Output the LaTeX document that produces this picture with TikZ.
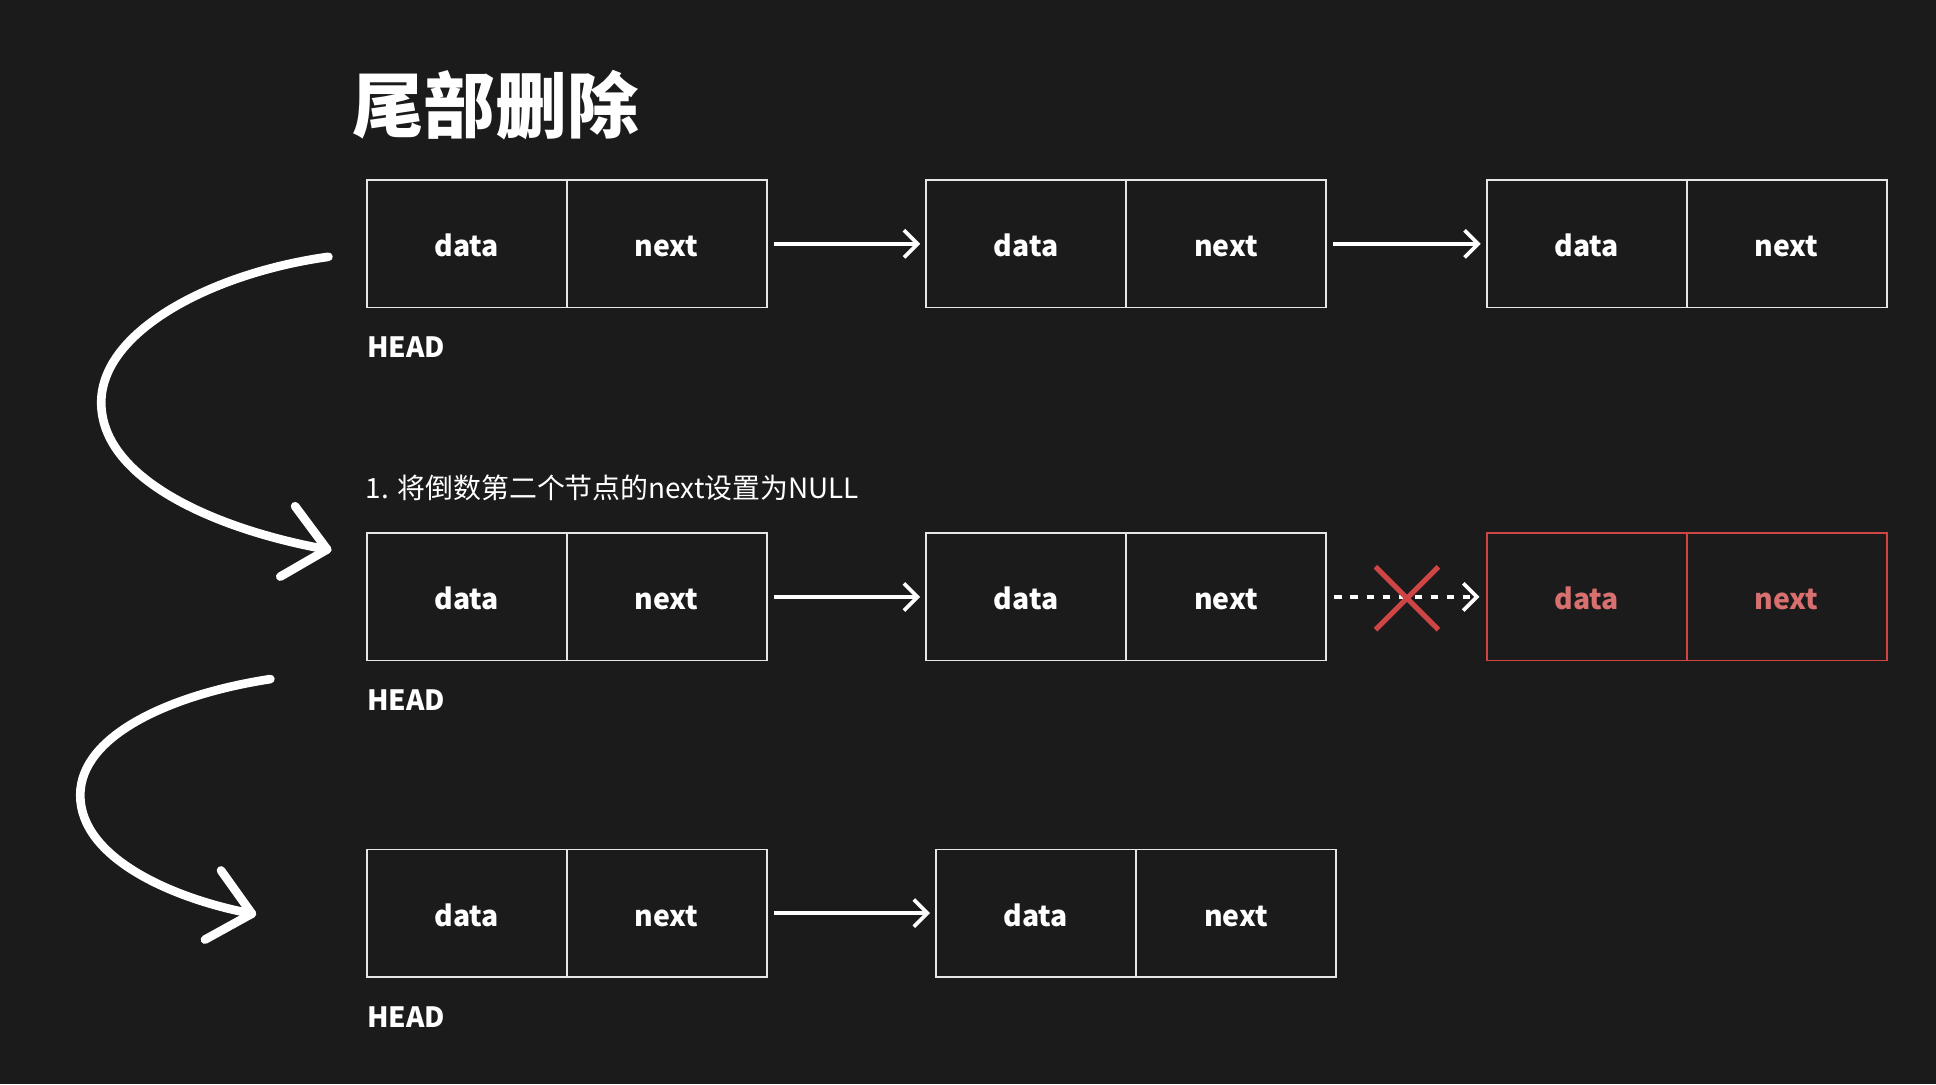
\documentclass[tikz,border=0pt]{standalone}
\usepackage{fontspec}
\setmainfont{Noto Sans CJK SC}
\usetikzlibrary{arrows.meta}
\definecolor{bgc}{HTML}{1B1B1B}
\definecolor{boxline}{HTML}{E6E6E6}
\definecolor{redline}{HTML}{CF4444}
\definecolor{redtext}{HTML}{D87070}
\begin{document}
\begin{tikzpicture}[x=0.5pt,y=-0.5pt,
  cell/.style={draw=boxline,line width=0.75pt,minimum width=81pt,minimum height=51.5pt,inner sep=0pt,
    text height=10.5pt,text depth=0pt,
    text=white,font=\fontsize{11.5}{13}\selectfont\bfseries},
  redcell/.style={cell,draw=redline,text=redtext},
  headlbl/.style={anchor=west,inner sep=0pt,text=white,font=\fontsize{11.3}{13}\selectfont\bfseries},
  link/.style={draw=white,line width=1.5pt,-{Straight Barb[length=5.5pt,width=11pt,line width=1.5pt]},shorten <=2.5pt,shorten >=2pt},
  dlink/.style={link,dash pattern=on 3pt off 3.5pt,shorten <=3pt,shorten >=2.5pt},
  bigarrow/.style={draw=white,line width=3.5pt,line cap=round,line join=round},
]
\fill[bgc] (0,0) rectangle (1568,878);
\useasboundingbox (0,0) rectangle (1568,878);

\node[anchor=west,inner sep=0pt,text=white,font=\fontsize{29}{32}\selectfont\bfseries] (title) at (285,85) {尾部删除};

% row 1
\node[cell] (r1a1) at (378,197.5) {data};
\node[cell] (r1a2) at (540,197.5) {next};
\node[cell] (r1b1) at (831,197.5) {data};
\node[cell] (r1b2) at (993,197.5) {next};
\node[cell] (r1c1) at (1285,197.5) {data};
\node[cell] (r1c2) at (1447,197.5) {next};
\node[headlbl] (h1) at (297,281) {HEAD};
\draw[link] (r1a2.east) -- (r1b1.west);
\draw[link] (r1b2.east) -- (r1c1.west);

% row 2
\node[anchor=west,inner sep=0pt,text=white,font=\fontsize{11.3}{13}\selectfont] (step1) at (296,395) {1. 将倒数第二个节点的next设置为NULL};
\node[cell] (r2a1) at (378,483.5) {data};
\node[cell] (r2a2) at (540,483.5) {next};
\node[cell] (r2b1) at (831,483.5) {data};
\node[cell] (r2b2) at (993,483.5) {next};
\node[redcell] (r2c1) at (1285,483.5) {data};
\node[redcell] (r2c2) at (1447,483.5) {next};
\node[headlbl] (h2) at (297,567) {HEAD};
\draw[link] (r2a2.east) -- (r2b1.west);
\draw[dlink] (r2b2.east) -- (r2c1.west);
\coordinate (x1) at (1114,459);
\coordinate (x2) at (1165,510);
\coordinate (x3) at (1114,510);
\coordinate (x4) at (1165,459);
\draw[redline,line width=2.1pt] (x1) -- (x2) (x3) -- (x4);

% row 3
\node[cell] (r3a1) at (378,739.5) {data};
\node[cell] (r3a2) at (540,739.5) {next};
\node[cell] (r3b1) at (839,739.5) {data};
\node[cell] (r3b2) at (1001,739.5) {next};
\node[headlbl] (h3) at (297,824) {HEAD};
\draw[link] (r3a2.east) -- (r3b1.west);

% curved arrows
\coordinate (c1s) at (266,208);
\coordinate (c1m) at (82,326);
\coordinate (c1e) at (265,445);
\draw[bigarrow] (c1s) .. controls (172,221) and (82,268) .. (c1m)
  .. controls (82,390) and (180,430) .. (c1e);
\draw[bigarrow] (239,410) -- (c1e) -- (227,467);

\coordinate (c2s) at (219,550);
\coordinate (c2m) at (65,644);
\coordinate (c2e) at (204,740);
\draw[bigarrow] (c2s) .. controls (140,562) and (65,595) .. (c2m)
  .. controls (65,695) and (140,728) .. (c2e);
\draw[bigarrow] (179,705) -- (c2e) -- (166,761);
\end{tikzpicture}
\end{document}
